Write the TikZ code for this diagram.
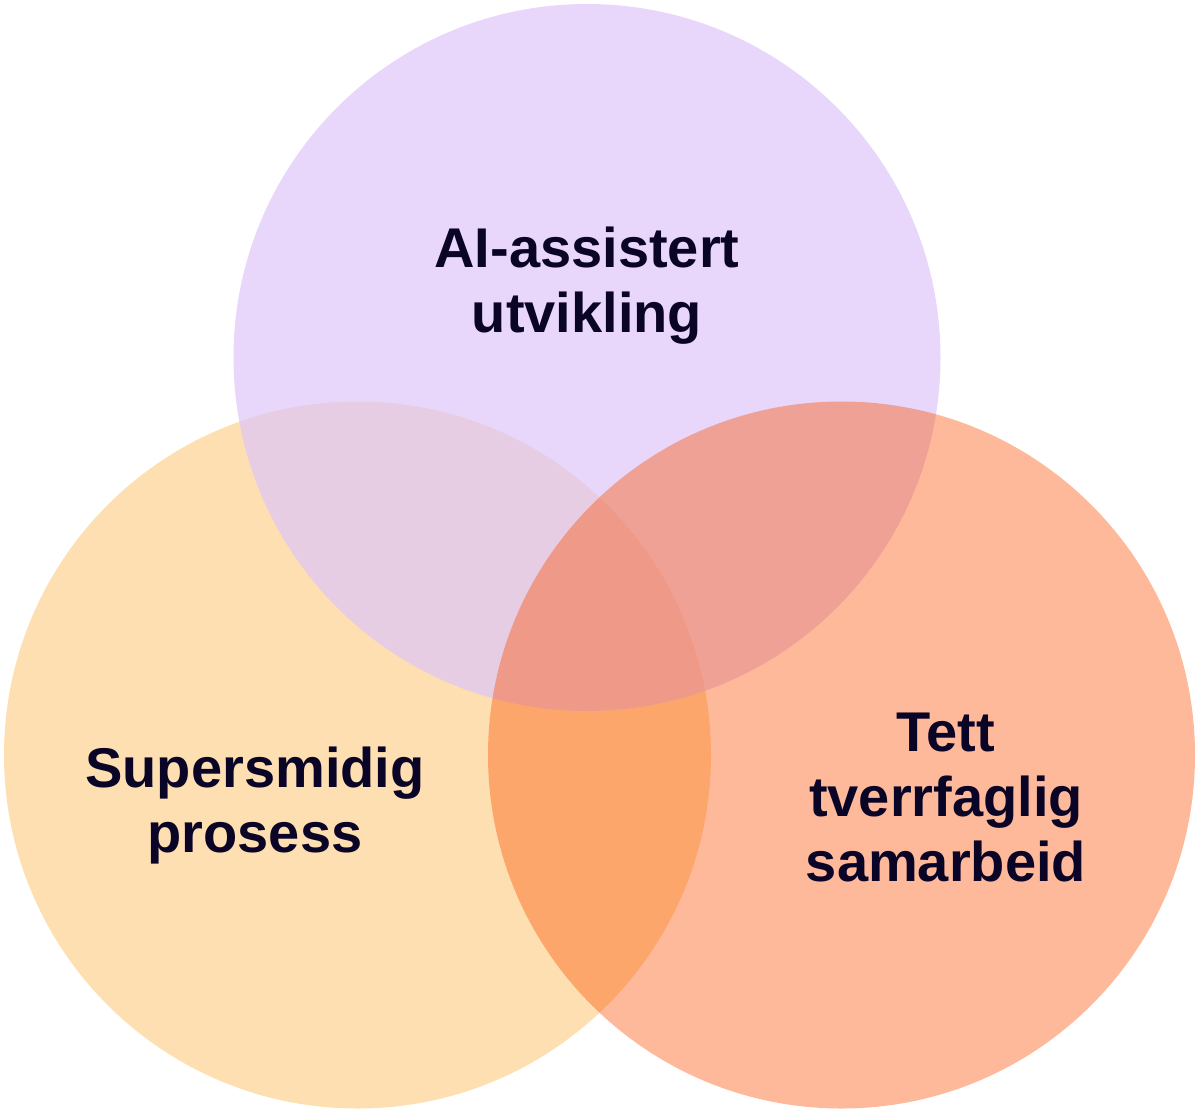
\documentclass[tikz,border=0pt]{standalone}
\usepackage{fontspec}
\setmainfont{Liberation Sans}
\usepackage{tikz}
\definecolor{vennsand}{HTML}{FCAF3E}
\definecolor{vennlilac}{HTML}{DEC6F8}
\definecolor{vennsalmon}{HTML}{FC5002}
\definecolor{venntext}{HTML}{0A0426}
\begin{document}
\begin{tikzpicture}[x=0.5pt, y=-0.5pt,
  blob/.style={circle, draw=none, minimum size=353.5pt, inner sep=0pt},
  label/.style={align=center, text=venntext, font=\fontsize{28}{32.5}\selectfont\bfseries}]
  \useasboundingbox (0,0) rectangle (1200,1115);

  % Circles (left, top, right)
  \node[blob, fill=vennsand, fill opacity=0.4] (proc) at (357.5, 755) {};
  \node[blob, fill=vennlilac, fill opacity=0.7] (ai) at (587, 357.5) {};
  \node[blob, fill=vennsalmon, fill opacity=0.4] (team) at (841.5, 755) {};

  % Labels
  \node[label] (ailabel) at (587, 286) {AI-assistert\\utvikling};
  \node[label] (proclabel) at (255, 806) {Supersmidig\\prosess};
  \node[label] (teamlabel) at (946, 797.5) {Tett\\tverrfaglig\\samarbeid};
\end{tikzpicture}
\end{document}
